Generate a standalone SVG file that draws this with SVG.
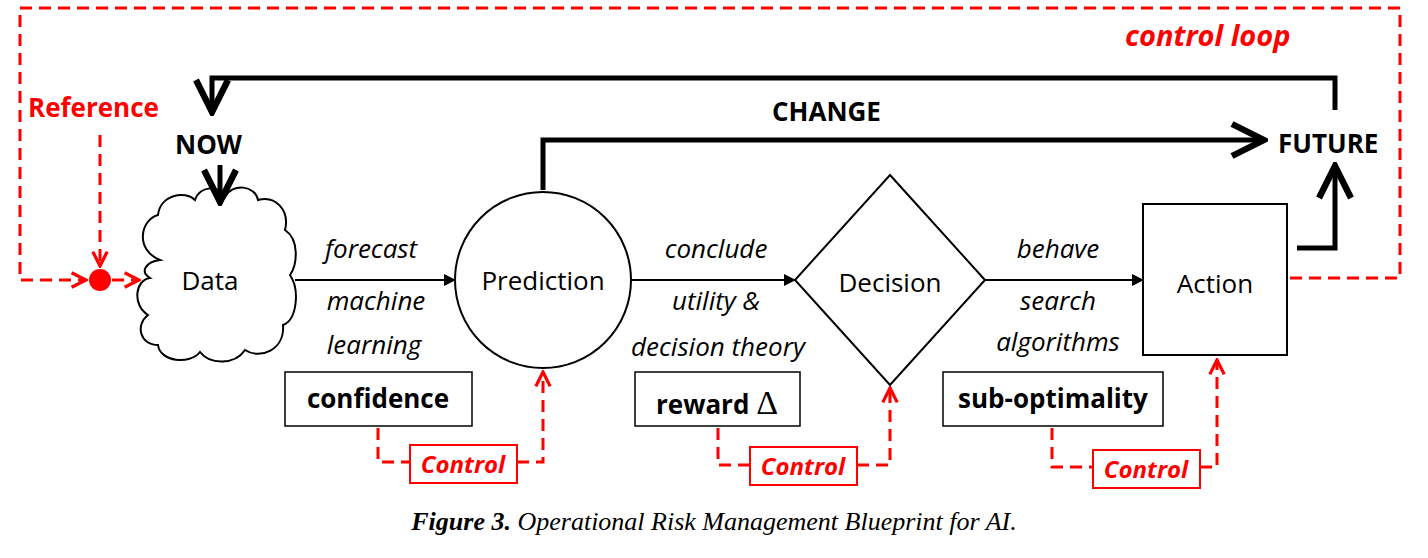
<svg xmlns="http://www.w3.org/2000/svg" width="1428" height="558" viewBox="0 0 1428 558">
<defs>
<style>
.t{font-family:"Open Sans","Liberation Sans",sans-serif;font-size:26px;fill:#000}
.b{font-weight:bold}
.i{font-style:italic}
.r{fill:#f00}
.k{stroke:#000;fill:none}
.rd{stroke:#f00;fill:none;stroke-width:3;stroke-dasharray:12,7}
.c{font-size:24px}
</style>
<marker id="ak" viewBox="0 0 12 12" refX="11" refY="6" markerWidth="12" markerHeight="12" markerUnits="userSpaceOnUse" orient="auto"><path d="M0,0 L12,6 L0,12 Z" fill="#000"/></marker>
<marker id="av" viewBox="0 0 10 10" refX="9" refY="5" markerWidth="8" markerHeight="8" orient="auto"><path d="M1,1 L9,5 L1,9" fill="none" stroke="#000" stroke-width="1.6"/></marker>
<marker id="ar" viewBox="0 0 10 10" refX="9" refY="5" markerWidth="6" markerHeight="6" orient="auto"><path d="M1,1 L9,5 L1,9" fill="none" stroke="#f00" stroke-width="1.8"/></marker>
</defs>
<rect width="1428" height="558" fill="#fff"/>
<g id="connectors">
<path class="rd" d="M1290,278 H1400 V8 H20 V280 H86" marker-end="url(#ar)"/>
<path class="rd" d="M100,135 V266" marker-end="url(#ar)"/>
<path class="rd" d="M112,280 H139" marker-end="url(#ar)" stroke-dasharray="none"/>
<path class="k" stroke-width="5" d="M1335,110 V78 H212 V112" marker-end="url(#av)"/>
<path class="k" stroke-width="5" d="M220,165 V202" marker-end="url(#av)"/>
<path class="k" stroke-width="5" d="M543,190 V140 H1264" marker-end="url(#av)"/>
<path class="k" stroke-width="5" d="M1297,248 H1335 V166" marker-end="url(#av)"/>
<path class="k" stroke-width="2" d="M295,280 H455" marker-end="url(#ak)"/>
<path class="k" stroke-width="2" d="M631,280 H795" marker-end="url(#ak)"/>
<path class="k" stroke-width="2" d="M985,280 H1143" marker-end="url(#ak)"/>
<path class="rd" d="M378,428 V462 H410"/>
<path class="rd" d="M517,462 H543 V372" marker-end="url(#ar)"/>
<path class="rd" d="M718,428 V465 H750"/>
<path class="rd" d="M857,465 H890 V388" marker-end="url(#ar)"/>
<path class="rd" d="M1052,428 V467 H1093"/>
<path class="rd" d="M1200,467 H1217 V360" marker-end="url(#ar)"/>
</g>
<g id="ref-dot"><circle cx="100" cy="280" r="11" fill="#f00"/></g>
<g id="labels">
<text class="t b i r" x="1125" y="46" style="font-size:29px">control loop</text>
<text class="t b r" x="28" y="117">Reference</text>
<text class="t b" x="175" y="154">NOW</text>
<text class="t b" x="772" y="121">CHANGE</text>
<text class="t b" x="1278" y="153">FUTURE</text>
<g class="t i" text-anchor="middle">
<text x="371" y="258">forecast</text>
<text x="376" y="310">machine</text>
<text x="374" y="354">learning</text>
<text x="716" y="258">conclude</text>
<text x="716" y="310">utility &amp;</text>
<text x="718" y="356">decision theory</text>
<text x="1058" y="258">behave</text>
<text x="1058" y="310">search</text>
<text x="1058" y="351">algorithms</text>
</g>
</g>
<g id="data">
<path class="k" stroke-width="2" d="M160,260 C135,250 140,220 158,215 C160,195 185,190 195,200 C200,185 220,185 225,197 C232,183 255,185 258,200 C275,195 290,210 285,230 C300,240 297,265 290,275 C300,290 297,320 283,325 C285,350 260,360 245,350 C235,365 210,365 200,352 C190,365 160,362 158,345 C140,345 135,325 148,315 C132,305 135,280 150,278 C140,272 145,262 160,260 Z" fill="#fff"/>
<text class="t" x="210" y="290" text-anchor="middle">Data</text>
</g>
<g id="prediction"><circle cx="543" cy="280" r="88" class="k" stroke-width="2"/><text class="t" x="543" y="290" text-anchor="middle">Prediction</text></g>
<g id="decision"><path class="k" stroke-width="2" d="M890,175 L985,280 L890,385 L795,280 Z"/><text class="t" x="890" y="292" text-anchor="middle">Decision</text></g>
<g id="action"><rect x="1143" y="204" width="144" height="151" class="k" stroke-width="2"/><text class="t" x="1215" y="293" text-anchor="middle">Action</text></g>
<g id="confidence"><rect x="285" y="372" width="187" height="54" class="k" stroke-width="1.5"/><text class="t b" x="378" y="408" text-anchor="middle">confidence</text></g>
<g id="reward"><rect x="635" y="372" width="165" height="54" class="k" stroke-width="1.5"/><text class="t b" x="717" y="414" text-anchor="middle">reward <tspan font-family="Liberation Serif,serif" font-weight="normal" font-size="34">Δ</tspan></text></g>
<g id="suboptimality"><rect x="943" y="372" width="220" height="54" class="k" stroke-width="1.5"/><text class="t b" x="1053" y="408" text-anchor="middle">sub-optimality</text></g>
<g id="control1"><rect x="410" y="445" width="107" height="38" fill="#fff" stroke="#f00" stroke-width="2"/><text class="t b i r c" x="463" y="473" text-anchor="middle">Control</text></g>
<g id="control2"><rect x="750" y="447" width="107" height="38" fill="#fff" stroke="#f00" stroke-width="2"/><text class="t b i r c" x="803" y="475" text-anchor="middle">Control</text></g>
<g id="control3"><rect x="1093" y="450" width="107" height="38" fill="#fff" stroke="#f00" stroke-width="2"/><text class="t b i r c" x="1146" y="478" text-anchor="middle">Control</text></g>
<text x="714" y="530" text-anchor="middle" font-family="Liberation Serif,serif" font-size="26" font-style="italic"><tspan font-weight="bold">Figure 3.</tspan> Operational Risk Management Blueprint for AI.</text>
</svg>
